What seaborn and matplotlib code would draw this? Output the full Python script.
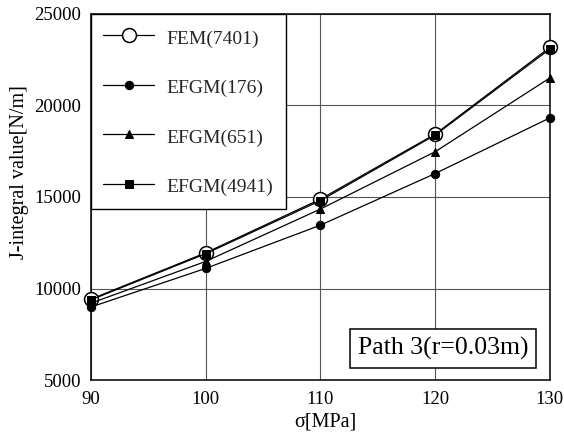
import matplotlib
matplotlib.use("Agg")
import matplotlib.pyplot as plt
import seaborn as sns

# stress levels [MPa]
sigma = [90, 100, 110, 120, 130]

# J-integral values [N/m]
fem_7401 = [9420, 11950, 14880, 18430, 23170]
efgm_176 = [8990, 11100, 13460, 16280, 19320]
efgm_651 = [9200, 11480, 14340, 17470, 21500]
efgm_4941 = [9380, 11900, 14800, 18380, 23080]

sns.set_theme(style="white")
plt.rcParams['font.family'] = ['Liberation Serif', 'DejaVu Serif']

fig = plt.figure(figsize=(5.64, 4.32), dpi=100)
ax = fig.add_axes([0.161, 0.12, 0.814, 0.848])

line_kw = dict(color='black', linewidth=0.9, ax=ax, clip_on=False)
sns.lineplot(x=sigma, y=fem_7401, marker='o', markersize=10, markerfacecolor='white',
             markeredgecolor='black', markeredgewidth=1.1, label='FEM(7401)', zorder=3, **line_kw)
sns.lineplot(x=sigma, y=efgm_176, marker='o', markersize=6, markeredgecolor='black',
             label='EFGM(176)', zorder=4, **line_kw)
sns.lineplot(x=sigma, y=efgm_651, marker='^', markersize=6, markeredgecolor='black',
             label='EFGM(651)', zorder=4, **line_kw)
sns.lineplot(x=sigma, y=efgm_4941, marker='s', markersize=6, markeredgecolor='black',
             label='EFGM(4941)', zorder=4, **line_kw)

ax.set_xlim(90, 130)
ax.set_ylim(5000, 25000)
ax.set_xticks([90, 100, 110, 120, 130])
ax.set_yticks([5000, 10000, 15000, 20000, 25000])
ax.grid(True, color='#555555', linewidth=0.8)
ax.tick_params(length=0, labelsize=13.5, colors='black')
ax.tick_params(axis='x', pad=8)
ax.tick_params(axis='y', pad=7)
for s in ax.spines.values():
    s.set_color('black')
    s.set_linewidth(1.1)

ax.set_xlabel('σ[MPa]', fontsize=14.5, color='black')
ax.set_ylabel('J-integral value[N/m]', fontsize=14.5, color='black')
ax.xaxis.set_label_coords(0.51, -0.088)
ax.yaxis.set_label_coords(-0.135, 0.568)

leg = ax.legend(loc='upper left', borderaxespad=0, fancybox=False, framealpha=1,
                edgecolor='black', fontsize=14, handlelength=2.6, handletextpad=0.64,
                handleheight=1.3, labelspacing=1.46, borderpad=0.65)
leg.get_frame().set_linewidth(1.0)
leg.set_zorder(5)

ax.text(0.767, 0.086, 'Path 3(r=0.03m)', transform=ax.transAxes, ha='center', va='center',
        fontsize=18.5, color='black', zorder=6,
        bbox=dict(boxstyle='square,pad=0.3', facecolor='white', edgecolor='black', linewidth=1.1))

fig.savefig('out.png', dpi=100)
